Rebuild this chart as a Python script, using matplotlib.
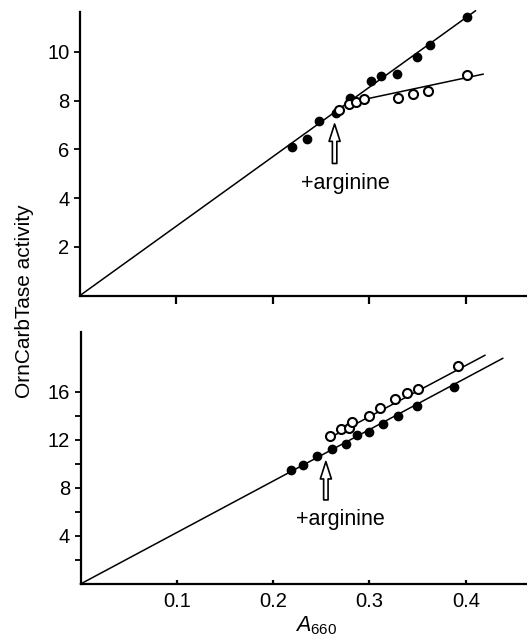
import numpy as np
import matplotlib
matplotlib.use("Agg")
import matplotlib.pyplot as plt

plt.rcParams['font.family'] = ['Liberation Sans', 'DejaVu Sans']
plt.rcParams['mathtext.fontset'] = 'custom'
plt.rcParams['mathtext.rm'] = 'Liberation Sans'
plt.rcParams['mathtext.it'] = 'Liberation Sans:italic'

# top panel: culture without / with arginine added
top_ctrl_x = [0.220, 0.235, 0.2475, 0.265, 0.280, 0.302, 0.3125, 0.329, 0.349, 0.3625, 0.401]
top_ctrl_y = [6.08, 6.42, 7.15, 7.48, 8.09, 8.81, 9.00, 9.08, 9.78, 10.29, 11.43]
top_arg_x = [0.2686, 0.2786, 0.2859, 0.2945, 0.3302, 0.3458, 0.3613, 0.4008]
top_arg_y = [7.61, 7.85, 7.93, 8.05, 8.09, 8.27, 8.40, 9.05]

# bottom panel
bot_ctrl_x = [0.218, 0.2305, 0.245, 0.2606, 0.2755, 0.2866, 0.2997, 0.3142, 0.3298, 0.3489, 0.3876]
bot_ctrl_y = [9.47, 9.92, 10.69, 11.22, 11.67, 12.42, 12.64, 13.28, 14.00, 14.78, 16.39]
bot_arg_x = [0.2589, 0.270, 0.2789, 0.2814, 0.2991, 0.3108, 0.3264, 0.3392, 0.350, 0.3915]
bot_arg_y = [12.33, 12.92, 12.97, 13.50, 14.00, 14.64, 15.39, 15.86, 16.22, 18.17]

# fitted lines: (x start, x end, slope, intercept)
top_ctrl_fit = (0.0, 0.41, 28.5, 0.0)
top_arg_fit = (0.297, 0.418, 8.4, 8.07 - 8.4 * 0.297)
bot_ctrl_fit = (0.0, 0.4383, 42.85, 0.0)
bot_arg_fit = (0.2624, 0.4198, 42.6, 12.33 - 42.6 * 0.2624)

# arrow: x, tip y, base y, label x, label y
top_arrow = (0.264, 7.04, 5.42, 0.275, 4.6)
bot_arrow = (0.2547, 10.19, 7.0, 0.2693, 5.33)

xticks = [0.1, 0.2, 0.3, 0.4]
W, H = 527, 638

fig = plt.figure(figsize=(W / 100, H / 100), dpi=100)
ax1 = fig.add_axes([80 / W, 1 - 295.5 / H, 1 - 80 / W, (295.5 - 11.7) / H])
ax2 = fig.add_axes([80.5 / W, 1 - 584 / H, 1 - 80.5 / W, (584 - 331.7) / H])


def draw_fit(ax, fit):
    x0, x1, m, b = fit
    xs = np.array([x0, x1])
    ax.plot(xs, m * xs + b, color='black', lw=1.1, clip_on=False, zorder=2)


def draw_arrow(ax, arr):
    x, tip, base, tx, ty = arr
    ax.annotate('', xy=(x, tip), xytext=(x, base),
                arrowprops=dict(arrowstyle='simple,head_length=1.25,head_width=0.8,tail_width=0.32',
                                fc='white', ec='black', lw=1.2, shrinkA=0, shrinkB=0,
                                mutation_scale=10))
    ax.text(tx, ty, '+arginine', ha='center', va='center', fontsize=15.5)


for ax in (ax1, ax2):
    for s in ('top', 'right'):
        ax.spines[s].set_visible(False)
    for s in ('left', 'bottom'):
        ax.spines[s].set_linewidth(1.6)
    ax.set_xlim(0, 0.4635)
    ax.set_xticks(xticks)

draw_fit(ax1, top_ctrl_fit)
draw_fit(ax1, top_arg_fit)
ax1.plot(top_ctrl_x, top_ctrl_y, 'o', ms=6, mfc='black', mec='black', zorder=3)
ax1.plot(top_arg_x, top_arg_y, 'o', ms=6.5, mfc='white', mec='black', mew=1.5, zorder=3)
draw_arrow(ax1, top_arrow)
ax1.set_ylim(0, 11.65)
ax1.set_yticks([2, 4, 6, 8, 10])
ax1.set_xticklabels([])
ax1.tick_params(axis='x', direction='out', length=6, width=1.6)
ax1.tick_params(axis='y', direction='out', length=4.5, width=1.3, labelsize=14.5, pad=3)

draw_fit(ax2, bot_ctrl_fit)
draw_fit(ax2, bot_arg_fit)
ax2.plot(bot_ctrl_x, bot_ctrl_y, 'o', ms=6, mfc='black', mec='black', zorder=3)
ax2.plot(bot_arg_x, bot_arg_y, 'o', ms=6.5, mfc='white', mec='black', mew=1.5, zorder=3)
draw_arrow(ax2, bot_arrow)
ax2.set_ylim(0, 21.0)
ax2.set_yticks([4, 8, 12, 16])
ax2.set_yticks([2, 6, 10, 14], minor=True)
ax2.set_xticklabels(['0.1', '0.2', '0.3', '0.4'])
ax2.tick_params(axis='x', direction='in', length=3, width=1.6, labelsize=14.5, pad=6)
ax2.tick_params(axis='y', which='both', direction='out', length=4.5, width=1.3, labelsize=14.5, pad=3)

fig.text(25 / W, 1 - 301 / H, 'OrnCarbTase activity', rotation=90,
         ha='center', va='center', fontsize=15)
fig.text(316 / W, 1 - 626 / H, r'$A_{\mathrm{660}}$', ha='center', va='center', fontsize=15.5)

fig.savefig('out.png', dpi=100)
